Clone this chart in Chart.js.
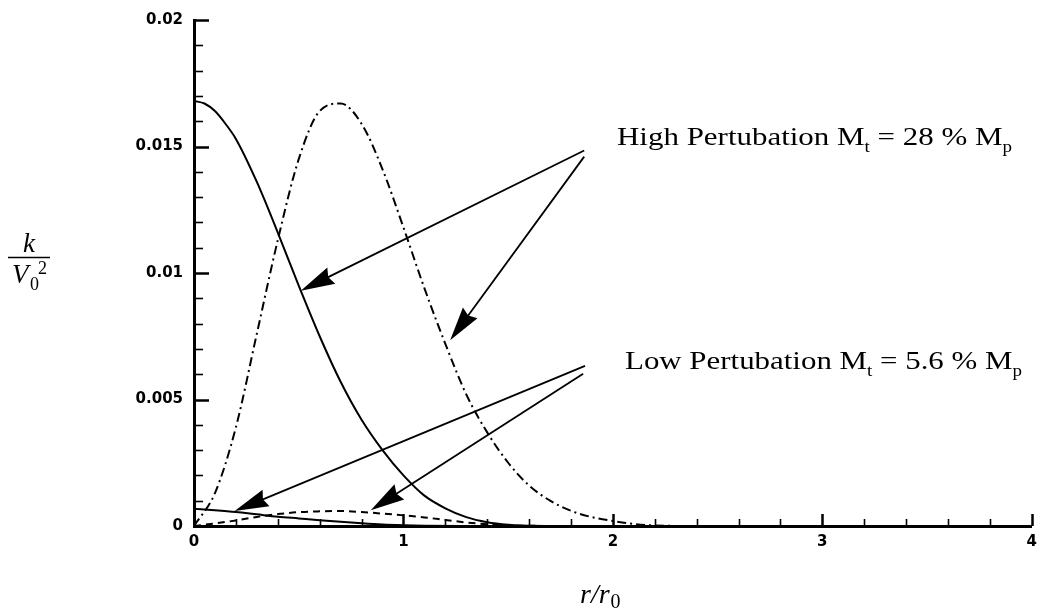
<!DOCTYPE html>
<html>
<head>
<meta charset="utf-8">
<script src="https://cdn.jsdelivr.net/npm/chart.js@4.4.1/dist/chart.umd.min.js"></script>
<style>
  html, body { margin: 0; padding: 0; background: #ffffff; }
  #wrap { width: 1044px; height: 616px; position: relative; }
  #kprofile { display: block; width: 1044px; height: 616px; }
</style>
</head>
<body>
<div id="wrap"><canvas id="kprofile" width="1044" height="616"></canvas></div>
<script>
// k / V0^2, high perturbation (Mt = 28 % Mp), solid line
const highSolidR   = [0, 0.05, 0.1, 0.15, 0.2, 0.3, 0.4, 0.5, 0.6, 0.7, 0.8, 0.9, 1.0,
                      1.1, 1.2, 1.3, 1.4, 1.5, 1.6, 1.8, 4];
const highSolid    = [0.0168, 0.0167, 0.0164, 0.0159, 0.0153, 0.0136, 0.0116, 0.0095, 0.0075,
                      0.0057, 0.0042, 0.0030, 0.0020, 0.0012, 0.0007, 0.00035, 0.00015,
                      0.00005, 0.00001, 0, 0];

// k / V0^2, high perturbation, dash-dot line
const highDashDotR = [0, 0.1, 0.2, 0.3, 0.4, 0.5, 0.6, 0.7, 0.8, 0.9, 1.0, 1.1, 1.2,
                      1.3, 1.4, 1.5, 1.6, 1.7, 1.8, 1.9, 2.0, 2.1, 2.2, 2.4, 4];
const highDashDot  = [0, 0.0013, 0.0039, 0.0076, 0.0113, 0.0145, 0.0164, 0.0167, 0.0159,
                      0.0141, 0.0118, 0.0094, 0.0072, 0.0052, 0.0037, 0.0025, 0.0016,
                      0.0010, 0.0006, 0.00035, 0.0002, 0.00008, 0.00002, 0, 0];

// k / V0^2, low perturbation (Mt = 5.6 % Mp), solid line
const lowSolidR    = [0, 0.1, 0.2, 0.3, 0.4, 0.5, 0.6, 0.7, 0.8, 0.9, 1.0, 1.1, 1.3, 4];
const lowSolid     = [0.00068, 0.00062, 0.00055, 0.00046, 0.00037, 0.00030, 0.00023, 0.00017,
                      0.00011, 0.00006, 0.00003, 0.00001, 0, 0];

// k / V0^2, low perturbation, dashed line
const lowDashedR   = [0, 0.1, 0.2, 0.3, 0.4, 0.5, 0.6, 0.7, 0.8, 0.9, 1.0, 1.1, 1.2,
                      1.3, 1.4, 1.5, 1.6, 1.8, 4];
const lowDashed    = [0, 0.0001, 0.00022, 0.00036, 0.00047, 0.00055, 0.00058, 0.00059, 0.00055,
                      0.00049, 0.00042, 0.00034, 0.00024, 0.00014, 0.00007, 0.00003, 0.00001, 0, 0];

// Axis ticks
const xMajorTicks  = [0, 1, 2, 3, 4];
const xTickLabels  = ['0', '1', '2', '3', '4'];
const yMajorTicks  = [0, 0.005, 0.01, 0.015, 0.02];
const yTickLabels  = ['0', '0.005', '0.01', '0.015', '0.02'];

// Callout arrows (data units): tail (r, k) -> tip (r, k)
const arrowTailR = [1.863, 1.863, 1.867, 1.858];
const arrowTailK = [0.01484, 0.0146, 0.00633, 0.00602];
const arrowTipR  = [0.51, 1.223, 0.194, 0.844];
const arrowTipK  = [0.0093, 0.00734, 0.00059, 0.000625];

const toPoints = (rs, vals) => rs.map((r, i) => ({ x: r, y: vals[i] }));

const ink = '#000000';
const serif = '"Liberation Serif", "Times New Roman", serif';

// Caption text with subscripts, stretched horizontally to a given width
function drawRich(ctx, parts, x, y, size, targetWidth) {
  const subSize = Math.round(size * 0.6);
  let natural = 0;
  parts.forEach(p => {
    ctx.font = `${p.sub ? subSize : size}px ${serif}`;
    natural += ctx.measureText(p.t).width;
  });
  const sx = targetWidth / natural;
  ctx.save();
  ctx.translate(x, y);
  ctx.scale(sx, 1);
  let cx = 0;
  parts.forEach(p => {
    ctx.font = `${p.sub ? subSize : size}px ${serif}`;
    ctx.fillText(p.t, cx, p.sub ? size * 0.27 : 0);
    cx += ctx.measureText(p.t).width;
  });
  ctx.restore();
}

const decorations = {
  id: 'decorations',
  afterDatasetsDraw(chart) {
    const { ctx, scales: { x, y } } = chart;
    const xAxisY = y.getPixelForValue(0);
    const yAxisX = x.getPixelForValue(0);
    ctx.save();
    ctx.strokeStyle = ink;
    ctx.fillStyle = ink;
    ctx.lineCap = 'butt';

    // inward tick marks on left axis (minor every 0.001)
    for (let i = 0; i <= 20; i++) {
      const v = i * 0.001;
      const py = Math.round(y.getPixelForValue(v)) + 0.5;
      const major = i % 5 === 0;
      ctx.lineWidth = major ? 2.5 : 1.6;
      ctx.beginPath();
      ctx.moveTo(yAxisX, py);
      ctx.lineTo(yAxisX + (major ? 15 : 9), py);
      ctx.stroke();
    }
    // inward tick marks on bottom axis (minor every 0.2)
    for (let i = 0; i <= 20; i++) {
      const v = i * 0.2;
      const px = Math.round(x.getPixelForValue(v)) + 0.5;
      const major = i % 5 === 0;
      ctx.lineWidth = major ? 2.5 : 1.6;
      ctx.beginPath();
      ctx.moveTo(px, xAxisY);
      ctx.lineTo(px, xAxisY - (major ? 12 : 7));
      ctx.stroke();
    }

    // callout arrows
    ctx.lineWidth = 1.8;
    for (let i = 0; i < arrowTailR.length; i++) {
      const tx = x.getPixelForValue(arrowTailR[i]);
      const ty = y.getPixelForValue(arrowTailK[i]);
      const hx = x.getPixelForValue(arrowTipR[i]);
      const hy = y.getPixelForValue(arrowTipK[i]);
      const len = Math.hypot(hx - tx, hy - ty);
      const dx = (hx - tx) / len, dy = (hy - ty) / len;
      const L = 34, W = 9;
      const bx = hx - dx * L, by = hy - dy * L;
      ctx.beginPath();
      ctx.moveTo(tx, ty);
      ctx.lineTo(bx + dx * 4, by + dy * 4);
      ctx.stroke();
      ctx.beginPath();
      ctx.moveTo(hx, hy);
      ctx.lineTo(bx - dy * W, by + dx * W);
      ctx.lineTo(hx - dx * L * 0.9, hy - dy * L * 0.9);
      ctx.lineTo(bx + dy * W, by - dx * W);
      ctx.closePath();
      ctx.fill();
    }

    // series captions
    ctx.textAlign = 'left';
    ctx.textBaseline = 'alphabetic';
    drawRich(ctx, [
      { t: 'High Pertubation M' }, { t: 't', sub: true },
      { t: ' = 28 % M' }, { t: 'p', sub: true }
    ], 617, 145, 26, 395);
    drawRich(ctx, [
      { t: 'Low Pertubation M' }, { t: 't', sub: true },
      { t: ' = 5.6 % M' }, { t: 'p', sub: true }
    ], 625, 369, 26, 397);

    // vertical axis title: k / V0^2
    ctx.font = `italic 27px ${serif}`;
    ctx.textAlign = 'center';
    ctx.fillText('k', 29, 252);
    ctx.lineWidth = 1.5;
    ctx.beginPath();
    ctx.moveTo(8, 257.5);
    ctx.lineTo(50, 257.5);
    ctx.stroke();
    ctx.textAlign = 'left';
    ctx.fillText('V', 12, 283);
    ctx.font = `18px ${serif}`;
    ctx.fillText('2', 38, 274);
    ctx.fillText('0', 30, 290);

    // horizontal axis title: r / r0
    ctx.font = `italic 28px ${serif}`;
    ctx.fillText('r/r', 580, 603);
    const w = ctx.measureText('r/r').width;
    ctx.font = `20px ${serif}`;
    ctx.fillText('0', 580 + w + 1, 608);

    ctx.restore();
  }
};

const tickFont = { family: '"DejaVu Sans", Arial, sans-serif', size: 15, weight: 'bold' };

new Chart(document.getElementById('kprofile'), {
  type: 'line',
  data: {
    datasets: [
      { data: toPoints(highSolidR, highSolid), borderColor: ink, borderWidth: 2, borderDash: [] },
      { data: toPoints(highDashDotR, highDashDot), borderColor: ink, borderWidth: 2, borderDash: [9, 4, 2, 4] },
      { data: toPoints(lowSolidR, lowSolid), borderColor: ink, borderWidth: 2, borderDash: [] },
      { data: toPoints(lowDashedR, lowDashed), borderColor: ink, borderWidth: 2, borderDash: [7, 5] }
    ]
  },
  options: {
    responsive: false,
    animation: false,
    devicePixelRatio: 1,
    layout: { padding: { top: 14, right: 6, left: 0, bottom: 0 } },
    elements: {
      point: { radius: 0 },
      line: { cubicInterpolationMode: 'monotone', fill: false }
    },
    plugins: { legend: { display: false }, tooltip: { enabled: false } },
    scales: {
      x: {
        type: 'linear', min: 0, max: 4,
        afterFit: s => { s.height = 90; },
        afterBuildTicks: s => { s.ticks = xMajorTicks.map(v => ({ value: v })); },
        ticks: {
          color: ink, font: tickFont, padding: 7, autoSkip: false, maxRotation: 0,
          callback: (v) => { const i = xMajorTicks.indexOf(v); return i >= 0 ? xTickLabels[i] : ''; }
        },
        grid: { display: false, drawTicks: false },
        border: { display: true, color: ink, width: 3 }
      },
      y: {
        type: 'linear', min: 0, max: 0.02,
        afterFit: s => { s.width = 194; },
        afterBuildTicks: s => { s.ticks = yMajorTicks.map(v => ({ value: v })); },
        ticks: {
          color: ink, font: tickFont, padding: 11, autoSkip: false,
          callback: (v) => { const i = yMajorTicks.indexOf(v); return i >= 0 ? yTickLabels[i] : ''; }
        },
        grid: { display: false, drawTicks: false },
        border: { display: true, color: ink, width: 3 }
      }
    }
  },
  plugins: [decorations]
});
</script>
</body>
</html>
